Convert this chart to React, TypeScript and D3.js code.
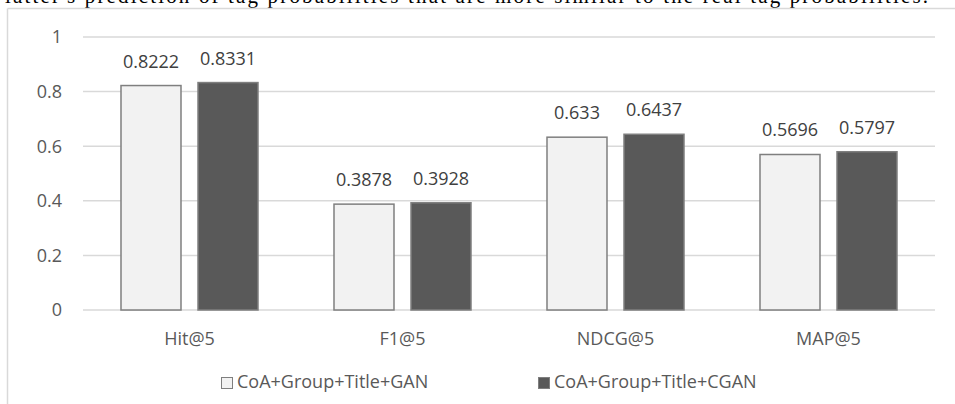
import React from "react";
import * as d3 from "d3";

const categories = ["Hit@5", "F1@5", "NDCG@5", "MAP@5"];
const seriesNames = ["CoA+Group+Title+GAN", "CoA+Group+Title+CGAN"];
const ganValues = [0.8222, 0.3878, 0.633, 0.5696];
const cganValues = [0.8331, 0.3928, 0.6437, 0.5797];
const valueLabels = [
  ["0.8222", "0.3878", "0.633", "0.5696"],
  ["0.8331", "0.3928", "0.6437", "0.5797"],
];
const yTicks = [0, 0.2, 0.4, 0.6, 0.8, 1];
const yTickLabels = ["0", "0.2", "0.4", "0.6", "0.8", "1"];
const topText =
  "latter's prediction of tag probabilities that are more similar to the real tag probabilities.";

const W = 955;
const H = 404;
const fills = ["#f2f2f2", "#595959"];
const FONT = "'Open Sans', Calibri, sans-serif";

export default function App() {
  const x0 = d3.scaleBand<string>().domain(categories).range([83, 935]).padding(0);
  const x1 = d3
    .scaleBand<string>()
    .domain(seriesNames)
    .range([0, x0.bandwidth()])
    .paddingInner(0.2208)
    .paddingOuter(0.4935);
  const y = d3.scaleLinear().domain([0, 1]).range([310, 37]);
  const series = [ganValues, cganValues];

  return (
    <svg
      width={W}
      height={H}
      style={{ position: "absolute", left: 0, top: 0, background: "#fff" }}
    >
      <rect x={0} y={0} width={W} height={H} fill="#fff" />
      <text
        x={5}
        y={3}
        fontFamily="'Liberation Serif', 'Times New Roman', serif"
        fontSize={21}
        fill="#000"
        textLength={923}
        lengthAdjust="spacing"
      >
        {topText}
      </text>
      {/* chart frame */}
      <line x1={7.5} x2={W} y1={8.5} y2={8.5} stroke="#d9d9d9" strokeWidth={1.5} />
      <line x1={7.5} x2={7.5} y1={8.5} y2={H} stroke="#d9d9d9" strokeWidth={1.5} />
      {/* gridlines */}
      {yTicks.map((t, i) => (
        <g key={i}>
          <line
            x1={83}
            x2={935}
            y1={y(t)}
            y2={y(t)}
            stroke="#d9d9d9"
            strokeWidth={1.5}
          />
          <text
            x={62}
            y={y(t)}
            dy="0.35em"
            textAnchor="end"
            fontFamily={FONT}
            fontSize={18}
            fill="#595959"
          >
            {yTickLabels[i]}
          </text>
        </g>
      ))}
      {/* bars */}
      {categories.map((c, ci) => (
        <g key={c} transform={`translate(${x0(c)},0)`}>
          {series.map((vals, si) => {
            const bx = x1(seriesNames[si])!;
            const bw = x1.bandwidth();
            return (
              <g key={si}>
                <rect
                  x={bx}
                  y={y(vals[ci])}
                  width={bw}
                  height={y(0) - y(vals[ci])}
                  fill={fills[si]}
                  stroke="#7f7f7f"
                  strokeWidth={1.5}
                />
                <text
                  x={bx + bw / 2}
                  y={y(vals[ci]) - 18}
                  textAnchor="middle"
                  fontFamily={FONT}
                  fontSize={18}
                  fill="#404040"
                >
                  {valueLabels[si][ci]}
                </text>
              </g>
            );
          })}
          <text
            x={x0.bandwidth() / 2}
            y={345}
            textAnchor="middle"
            fontFamily={FONT}
            fontSize={18}
            fill="#595959"
          >
            {c}
          </text>
        </g>
      ))}
      {/* legend */}
      {seriesNames.map((s, si) => {
        const lx = si === 0 ? 221 : 538;
        return (
          <g key={s}>
            <rect
              x={lx + 0.5}
              y={377.5}
              width={11}
              height={11}
              fill={fills[si]}
              stroke="#7f7f7f"
              strokeWidth={1}
            />
            <text
              x={lx + 16}
              y={388}
              fontFamily={FONT}
              fontSize={18}
              fill="#595959"
            >
              {s}
            </text>
          </g>
        );
      })}
    </svg>
  );
}
